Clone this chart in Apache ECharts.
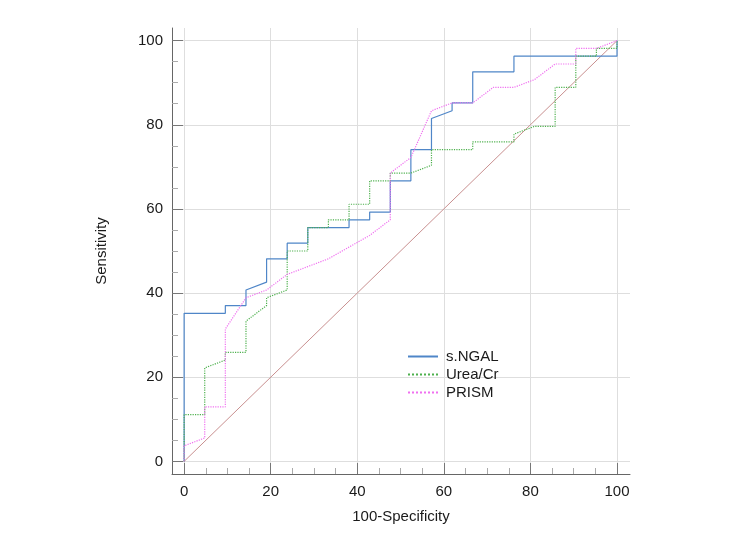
<!DOCTYPE html>
<html>
<head>
<meta charset="utf-8">
<script src="https://cdn.jsdelivr.net/npm/echarts@6/dist/echarts.min.js"></script>
<style>
html,body{margin:0;padding:0;background:#fff;}
#chart{width:750px;height:547px;}
</style>
</head>
<body>
<div id="chart"></div>
<script>
// ---- data ----
const seriesNames = ['s.NGAL', 'Urea/Cr', 'PRISM'];
const majorTicks = [0, 20, 40, 60, 80, 100];
const minorTicks = [5, 10, 15, 25, 30, 35, 45, 50, 55, 65, 70, 75, 85, 90, 95];

const ngalX = [0, 0, 9.52, 9.52, 14.29, 14.29, 19.05, 19.05, 23.81, 23.81, 28.57, 28.57, 38.10, 38.10, 42.86, 42.86, 47.62, 47.62, 52.38, 52.38, 57.14, 57.14, 61.90, 61.90, 66.67, 66.67, 76.19, 76.19, 100, 100];
const ngalY = [0, 35.19, 35.19, 37.04, 37.04, 40.74, 42.59, 48.15, 48.15, 51.85, 51.85, 55.56, 55.56, 57.41, 57.41, 59.26, 59.26, 66.67, 66.67, 74.07, 74.07, 81.48, 83.33, 85.19, 85.19, 92.59, 92.59, 96.30, 96.30, 100];

const ureaX = [0, 0, 4.76, 4.76, 9.52, 9.52, 14.29, 14.29, 19.05, 19.05, 23.81, 23.81, 28.57, 28.57, 33.33, 33.33, 38.10, 38.10, 42.86, 42.86, 47.62, 47.62, 52.38, 57.14, 57.14, 66.67, 66.67, 76.19, 76.19, 80.95, 85.71, 85.71, 90.48, 90.48, 95.24, 95.24, 100, 100];
const ureaY = [0, 11.11, 11.11, 22.22, 24.07, 25.93, 25.93, 33.33, 37.04, 38.89, 40.74, 50.00, 50.00, 55.56, 55.56, 57.41, 57.41, 61.11, 61.11, 66.67, 66.67, 68.52, 68.52, 70.37, 74.07, 74.07, 75.93, 75.93, 77.78, 79.63, 79.63, 88.89, 88.89, 96.30, 96.30, 98.15, 98.15, 100];

const prismX = [0, 0, 4.76, 4.76, 9.52, 9.52, 14.29, 19.05, 23.81, 28.57, 33.33, 38.10, 42.86, 47.62, 47.62, 52.38, 57.14, 61.90, 66.67, 71.43, 76.19, 80.95, 85.71, 90.48, 90.48, 95.24, 100];
const prismY = [0, 3.70, 5.56, 12.96, 12.96, 31.48, 38.89, 40.74, 44.44, 46.30, 48.15, 50.93, 53.70, 57.41, 68.52, 72.22, 83.33, 85.19, 85.19, 88.89, 88.89, 90.74, 94.44, 94.44, 98.15, 98.15, 100];

const refX = [0, 100];
const refY = [0, 100];

// ---- build ----
const zip = (xs, ys) => xs.map((x, i) => [x, ys[i]]);
const FONT = 'Liberation Sans, Arial, sans-serif';

const chart = echarts.init(document.getElementById('chart'), null, {renderer: 'canvas'});

const axisCommon = (isX) => ({
  type: 'value',
  min: isX ? -2.8 : -3,
  max: 103,
  axisLine: {show: true, onZero: false, lineStyle: {color: '#666', width: 1}},
  axisTick: {show: true, inside: true, length: 11, customValues: majorTicks, lineStyle: {color: '#777', width: 1}},
  axisLabel: {show: true, customValues: majorTicks, fontSize: 15, color: '#1a1a1a', fontFamily: FONT, margin: isX ? 10 : 9},
  splitLine: {show: true, lineStyle: {color: '#dedede', width: 1}},
  minorTick: {show: false},
  nameLocation: 'middle',
  nameTextStyle: {fontSize: 15, color: '#1a1a1a', fontFamily: FONT},
});

const minorAxis = (isX) => ({
  type: 'value',
  min: isX ? -2.8 : -3,
  max: 103,
  position: isX ? 'bottom' : 'left',
  offset: 0,
  axisLine: {show: false, onZero: false},
  axisTick: {show: true, inside: true, length: 6, customValues: minorTicks, lineStyle: {color: '#aaa', width: 1}},
  axisLabel: {show: false},
  splitLine: {show: false},
});

chart.setOption({
  backgroundColor: '#ffffff',
  animation: false,
  grid: {left: 172, top: 28, width: 458, height: 446, containLabel: false},
  legend: {
    orient: 'vertical',
    left: 402,
    top: 344,
    itemWidth: 30,
    itemHeight: 14,
    itemGap: 3,
    data: seriesNames,
    itemStyle: {opacity: 0},
    textStyle: {fontSize: 15, color: '#1a1a1a', fontFamily: FONT, padding: [0, 0, 0, 3]}
  },
  xAxis: [
    Object.assign(axisCommon(true), {position: 'bottom', name: '100-Specificity', nameGap: 35}),
    minorAxis(true)
  ],
  yAxis: [
    Object.assign(axisCommon(false), {position: 'left', name: 'Sensitivity', nameGap: 63}),
    minorAxis(false)
  ],
  series: [
    {
      name: 'ref', type: 'line', data: zip(refX, refY), symbol: 'none', silent: true,
      lineStyle: {color: '#c99090', width: 1}, z: 1
    },
    {
      name: seriesNames[0], type: 'line', data: zip(ngalX, ngalY), symbol: 'none',
      color: '#4f86c8', lineStyle: {color: '#4f86c8', width: 1.2}, z: 2
    },
    {
      name: seriesNames[1], type: 'line', data: zip(ureaX, ureaY), symbol: 'none',
      color: '#4db04d', lineStyle: {color: '#4db04d', width: 1.2, type: 'dotted'}, z: 3
    },
    {
      name: seriesNames[2], type: 'line', data: zip(prismX, prismY), symbol: 'none',
      color: '#f070f0', lineStyle: {color: '#f070f0', width: 1.2, type: 'dotted'}, z: 4
    }
  ]
});
</script>
</body>
</html>
